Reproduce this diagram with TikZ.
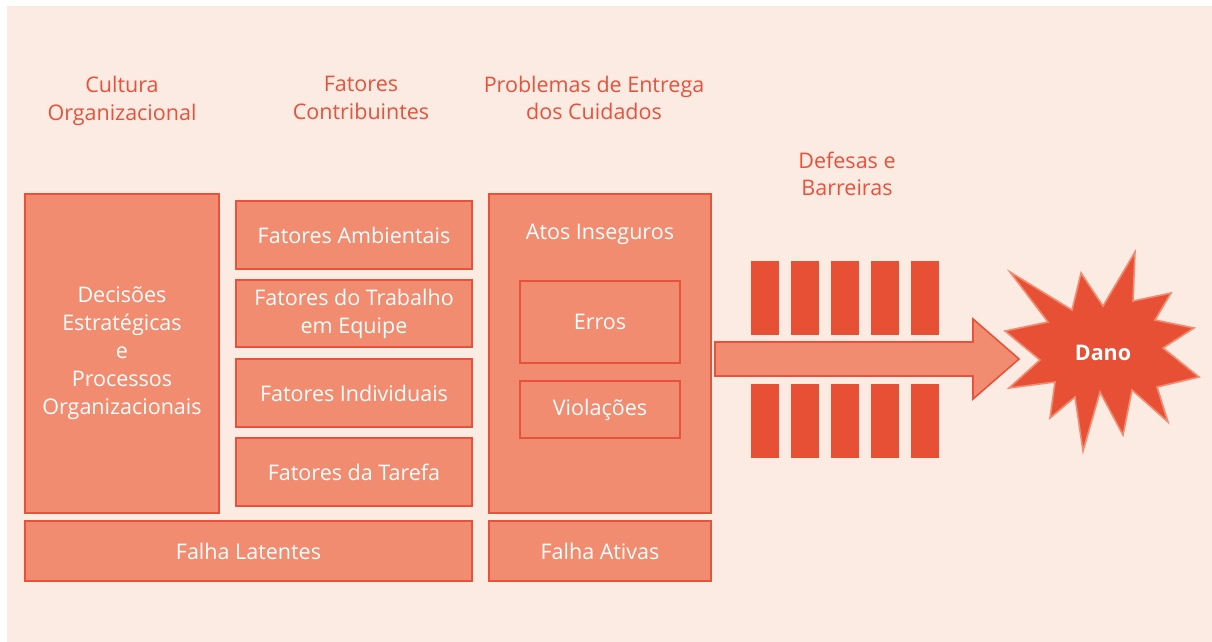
\documentclass[tikz,border=0pt]{standalone}
\usepackage{fontspec}
\setmainfont{Open Sans}

\definecolor{pagebg}{HTML}{FCEBE3}
\definecolor{boxfill}{HTML}{F28C70}
\definecolor{boxline}{HTML}{E8523A}
\definecolor{barred}{HTML}{E85035}

\tikzset{
  heading/.style={align=center, text=boxline, font=\fontsize{21.5}{27.5}\selectfont},
  block/.style={draw=boxline, fill=boxfill, line width=1.6pt, text=white,
    align=center, inner sep=0pt, font=\fontsize{21.5}{28}\selectfont},
  bar/.style={fill=barred}
}

\begin{document}
\begin{tikzpicture}[x=1pt,y=-1pt,line join=miter]
  \useasboundingbox (0,0) rectangle (1212,642);
  \fill[pagebg] (7,6) rectangle (1212,642);

  % column headings
  \node[heading] (hcult) at (122,101) {Cultura\\Organizacional};
  \node[heading] (hfat) at (361,98) {Fatores\\Contribuintes};
  \node[heading] (hprob) at (594,98) {Problemas de Entrega\\dos Cuidados};
  \node[heading] (hdef) at (847,174) {Defesas e\\Barreiras};

  % latent side
  \node[block, minimum width=194, minimum height=319] (decisoes) at (122,353.5)
    {Decisões\\Estratégicas\\e\\Processos\\Organizacionais};
  \node[block, minimum width=236, minimum height=68] (ambient) at (354,235) {Fatores Ambientais};
  \node[block, minimum width=236, minimum height=67] (equipe) at (354,313.5) {Fatores do Trabalho\\em Equipe};
  \node[block, minimum width=236, minimum height=68] (individ) at (354,393) {Fatores Individuais};
  \node[block, minimum width=236, minimum height=68] (tarefa) at (354,472) {Fatores da Tarefa};
  \node[block, minimum width=447, minimum height=60] (latentes) at (248.5,551) {Falha Latentes};

  % active side
  \node[block, minimum width=222, minimum height=319] (atos) at (600,353.5) {};
  \node[text=white, font=\fontsize{21.5}{28}\selectfont] (atostxt) at (600,234) {Atos Inseguros};
  \node[block, minimum width=160, minimum height=82] (erros) at (600,322) {Erros};
  \node[block, minimum width=160, minimum height=57] (violacoes) at (600,409.5) {Violações};
  \node[block, minimum width=222, minimum height=60] (ativas) at (600,551) {Falha Ativas};

  % barriers
  \foreach \x in {751,791,...,911} {
    \fill[bar] (\x,261) rectangle ++(28,74);
    \fill[bar] (\x,384) rectangle ++(28,74);
  }

  % arrow to harm
  \draw[draw=boxline, fill=boxfill, line width=1.6pt]
    (715,342) -- (973,342) -- (973,319) -- (1019,359) -- (973,399) -- (973,376) -- (715,376) -- cycle;

  % harm
  \draw[fill=barred, draw=boxfill, line width=1.6pt]
    (1010,272) -- (1072,310) -- (1081,273) -- (1103,306) -- (1135,252) -- (1133,301)
    -- (1171,293) -- (1155,320) -- (1194,328) -- (1163,348) -- (1199,377) -- (1157,387)
    -- (1168,422) -- (1132,390) -- (1123,435) -- (1100,392) -- (1083,451) -- (1075,397)
    -- (1050,418) -- (1055,382) -- (1009,388) -- (1040,360) -- (1005,331) -- (1048,322) -- cycle;
  \node[text=white, font=\fontsize{21.5}{26}\selectfont\bfseries] (dano) at (1103,353) {Dano};
\end{tikzpicture}
\end{document}
